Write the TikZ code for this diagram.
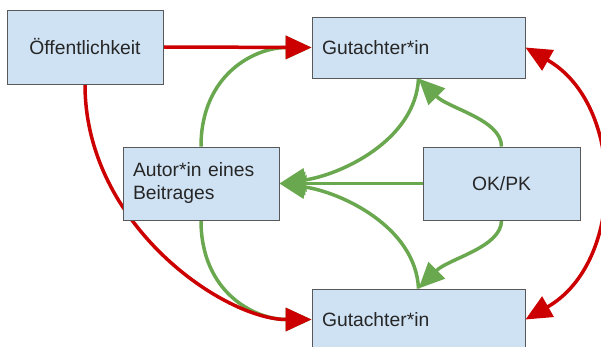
\documentclass[tikz,border=0pt]{standalone}
\usepackage{fontspec}
\setmainfont{Liberation Sans}
\usetikzlibrary{arrows.meta,calc,backgrounds}
\definecolor{boxfill}{HTML}{CFE2F3}
\definecolor{boxline}{HTML}{595959}
\definecolor{redline}{HTML}{CC0000}
\definecolor{greenline}{HTML}{6AA84F}
\begin{document}
\begin{tikzpicture}[x=1pt,y=-1pt,
  box/.style={draw=boxline,line width=0.9pt,fill=boxfill,font=\fontsize{19.3}{23}\selectfont,text=black!85,inner sep=0pt},
  cbox/.style={box,align=center},
  lbox/.style={box,align=left,inner xsep=10pt},
  tipshape/.style={},
  redarrow/.style={draw=redline,line width=3.5pt,-{Triangle[length=26pt,width=23pt]}},
  redboth/.style={draw=redline,line width=3.5pt,{Triangle[length=26pt,width=23pt]}-{Triangle[length=26pt,width=23pt]}},
  greenarrow/.style={draw=greenline,line width=3.5pt,-{Triangle[length=26pt,width=23pt]}},
]
\useasboundingbox (0,0) rectangle (601,347);
\node[cbox,minimum width=156pt,minimum height=74pt] (off) at (85,47) {Öffentlichkeit};
\node[lbox,text width=193pt,minimum height=61pt] (g1) at (418.5,47.5) {Gutachter*in};
\node[lbox,text width=136pt,minimum height=73pt] (aut) at (201,183.5) {Autor*in eines\\Beitrages};
\node[cbox,minimum width=157pt,minimum height=73pt] (ok) at (501.5,183.5) {OK/PK};
\node[lbox,text width=193pt,minimum height=61pt] (g2) at (418.5,319.5) {Gutachter*in};
\begin{pgfonlayer}{background}
\draw[greenarrow] (aut.north) .. controls ($(aut.north)+(0,-72)$) and ($(g1.west)+(-57,0)$) .. (g1.west);
\draw[greenarrow] (aut.south) .. controls ($(aut.south)+(0,72)$) and ($(g2.west)+(-57,0)$) .. (g2.west);
\draw[greenarrow] (g1.south) .. controls ($(g1.south)+(-3,62)$) and ($(aut.east)+(61,-8.5)$) .. (aut.east);
\draw[greenarrow] (g2.north) .. controls ($(g2.north)+(-3,-62)$) and ($(aut.east)+(61,8.5)$) .. (aut.east);
\draw[greenarrow] (ok.west) -- (aut.east);
\draw[greenarrow] (ok.north) .. controls ($(ok.north)+(0,-27)$) and ($(g1.south)+(30,30)$) .. (g1.south);
\draw[greenarrow] (ok.south) .. controls ($(ok.south)+(0,27)$) and ($(g2.north)+(30,-30)$) .. (g2.north);
\draw[redarrow] (off.east) -- (g1.west);
\draw[redarrow] (off.south) .. controls ($(off.south)+(0,141)$) and ($(g2.west)+(-87,0)$) .. (g2.west);
\draw[redboth] (g1.east) .. controls ($(g1.east)+(100,57)$) and ($(g2.east)+(100,-57)$) .. (g2.east);
\end{pgfonlayer}
\end{tikzpicture}
\end{document}
